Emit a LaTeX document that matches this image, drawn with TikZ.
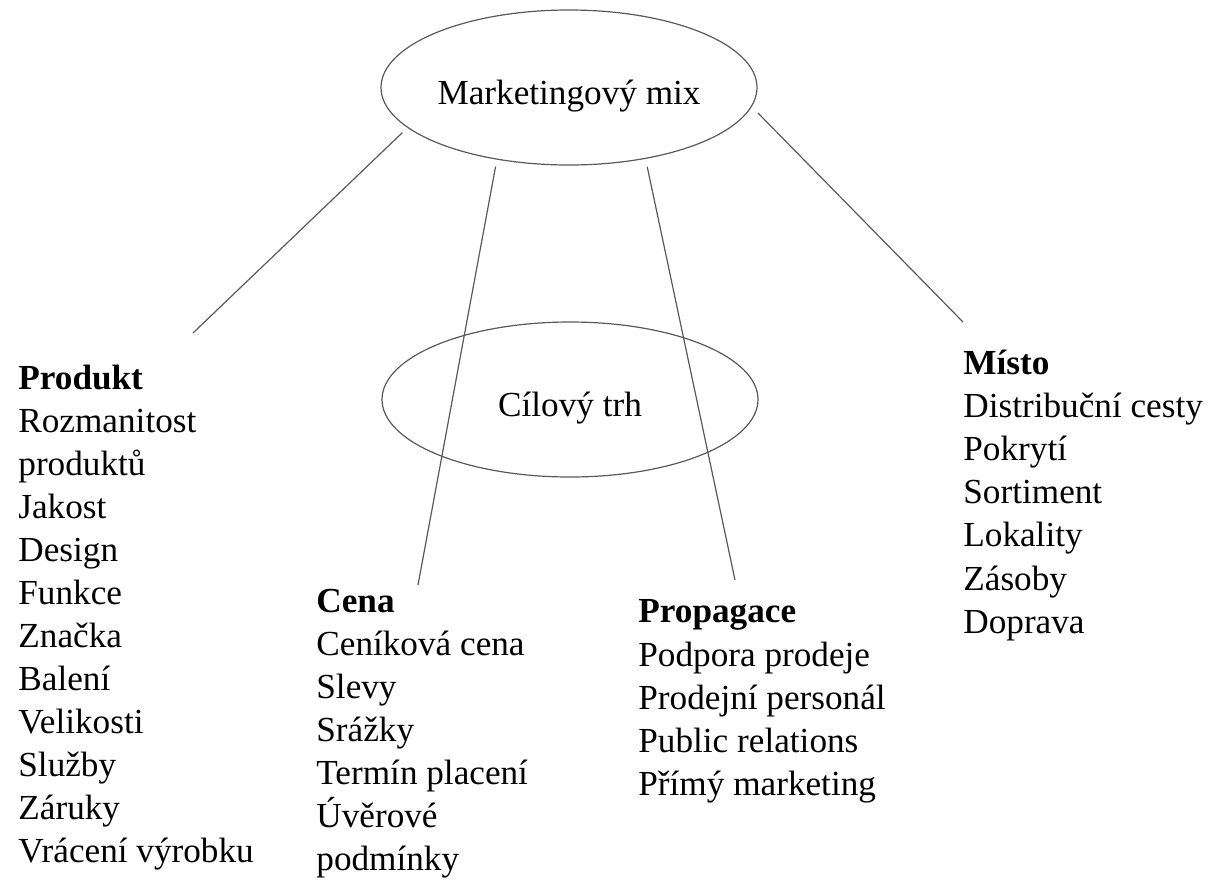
\documentclass[tikz,border=0pt]{standalone}
\usepackage{fontspec}
\setmainfont{Liberation Serif}
\usetikzlibrary{shapes.geometric}

\begin{document}
\begin{tikzpicture}[%
    x=0.5pt, y=-0.5pt,          % one unit is one pixel of the sketch, y grows downwards
    every node/.style={font=\fontsize{17.6}{21.5}\selectfont},
    ]
% -------------------------------------------------
% A few styles
\tikzset{
  oval/.style={draw=black!65, line width=0.6pt, ellipse, inner sep=0pt,
    minimum width=188pt, minimum height=77.5pt,
    text height=19.5pt, text depth=2.5pt},
  head/.style={anchor=base west, inner sep=0pt,
    font=\fontsize{17.6}{21.5}\selectfont\bfseries},
  item/.style={anchor=base west, inner sep=0pt},
  link/.style={draw=black!65, line width=0.6pt},
}
\useasboundingbox (0,0) rectangle (1211,879);
% -------------------------------------------------
% The two ovals
\node [oval] (mix) at (569,87.5) {Marketingový mix};
\node [oval] (trh) at (570,399.5) {Cílový trh};

% Free ends of the connectors
\coordinate (c1) at (193,333);
\coordinate (c2) at (418,585);
\coordinate (c3) at (735,580);
\coordinate (c4) at (963,322);

\draw [link, shorten <=3.5pt] (mix.194) -- (c1);
\draw [link, shorten <=3.5pt] (mix.225.8) -- (c2);
\draw [link, shorten <=4pt] (mix.317.2) -- (c3);
\draw [link, shorten <=4.5pt] (mix.354.4) -- (c4);

% -------------------------------------------------
% The four columns
\node [head] (produkt) at (18,389) {Produkt};
\foreach \t [count=\i] in {Rozmanitost, produktů, Jakost, Design, Funkce,
    Značka, Balení, Velikosti, Služby, Záruky, Vrácení výrobku}
  \node [item] (produkt\i) at (18,389+43*\i) {\t};

\node [head] (cena) at (316,612) {Cena};
\foreach \t [count=\i] in {Ceníková cena, Slevy, Srážky, Termín placení,
    Úvěrové, podmínky}
  \node [item] (cena\i) at (316,612+43*\i) {\t};

\node [head] (propagace) at (638,622) {Propagace};
\foreach \t [count=\i] in {Podpora prodeje, Prodejní personál,
    Public relations, Přímý marketing}
  \node [item] (propagace\i) at (638,623+43.2*\i) {\t};

\node [head] (misto) at (963,374) {Místo};
\foreach \t [count=\i] in {Distribuční cesty, Pokrytí, Sortiment,
    Lokality, Zásoby, Doprava}
  \node [item] (misto\i) at (963,374+43.2*\i) {\t};

% -------------------------------------------------
\end{tikzpicture}
\end{document}
